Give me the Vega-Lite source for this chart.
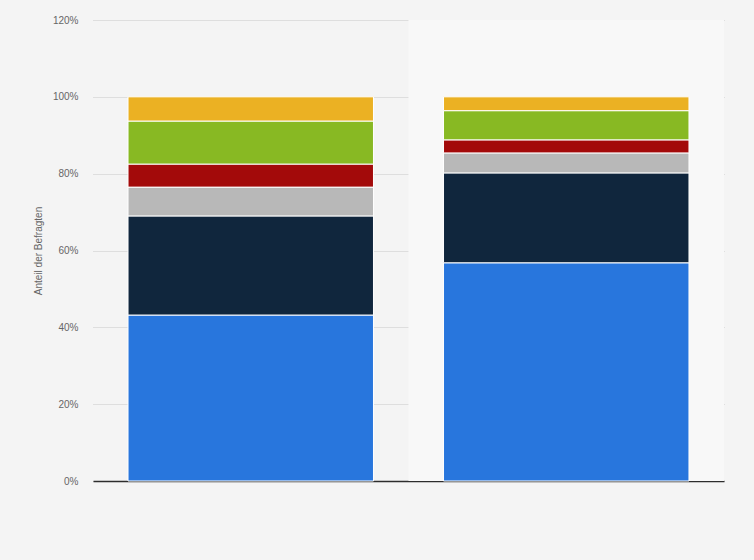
{
  "$schema": "https://vega.github.io/schema/vega-lite/v6.json",
  "autosize": "none",
  "width": 631,
  "height": 461,
  "padding": {"left": 93, "top": 20, "right": 30, "bottom": 79},
  "background": "#f4f4f4",
  "datasets": {
    "bars": [
      {"gruppe": "Gruppe 1", "antwort": "Antwort 1", "ordnung": 1, "anteil": 43.2},
      {"gruppe": "Gruppe 1", "antwort": "Antwort 2", "ordnung": 2, "anteil": 25.8},
      {"gruppe": "Gruppe 1", "antwort": "Antwort 3", "ordnung": 3, "anteil": 7.5},
      {"gruppe": "Gruppe 1", "antwort": "Antwort 4", "ordnung": 4, "anteil": 6.0},
      {"gruppe": "Gruppe 1", "antwort": "Antwort 5", "ordnung": 5, "anteil": 11.2},
      {"gruppe": "Gruppe 1", "antwort": "Antwort 6", "ordnung": 6, "anteil": 6.3},
      {"gruppe": "Gruppe 2", "antwort": "Antwort 1", "ordnung": 1, "anteil": 56.8},
      {"gruppe": "Gruppe 2", "antwort": "Antwort 2", "ordnung": 2, "anteil": 23.4},
      {"gruppe": "Gruppe 2", "antwort": "Antwort 3", "ordnung": 3, "anteil": 5.2},
      {"gruppe": "Gruppe 2", "antwort": "Antwort 4", "ordnung": 4, "anteil": 3.4},
      {"gruppe": "Gruppe 2", "antwort": "Antwort 5", "ordnung": 5, "anteil": 7.6},
      {"gruppe": "Gruppe 2", "antwort": "Antwort 6", "ordnung": 6, "anteil": 3.6}
    ],
    "band": [{"gruppe": "Gruppe 2"}]
  },
  "encoding": {
    "x": {
      "field": "gruppe",
      "type": "nominal",
      "scale": {"domain": ["Gruppe 1", "Gruppe 2"], "paddingInner": 0.222, "paddingOuter": 0.111},
      "axis": {"labels": false, "ticks": false, "title": null, "domainColor": "#2d2d2d", "domainWidth": 1.5, "grid": false}
    }
  },
  "layer": [
    {
      "data": {"name": "band"},
      "mark": {"type": "bar", "color": "#f8f8f8", "width": {"band": 1.2857}},
      "encoding": {
        "y": {"datum": 120, "type": "quantitative", "scale": {"domain": [0, 120]}},
        "y2": {"datum": 0}
      }
    },
    {
      "data": {"name": "bars"},
      "mark": {"type": "bar", "stroke": "#ffffff", "strokeWidth": 1},
      "encoding": {
        "y": {
          "field": "anteil",
          "type": "quantitative",
          "aggregate": "sum",
          "stack": "zero",
          "scale": {"domain": [0, 120]},
          "axis": {
            "values": [0, 20, 40, 60, 80, 100, 120],
            "labelExpr": "datum.value + '%'",
            "title": "Anteil der Befragten",
            "titleFontWeight": "normal",
            "titleFontSize": 10,
            "titleColor": "#666666",
            "titlePadding": 9,
            "labelFontSize": 10,
            "labelColor": "#666666",
            "labelPadding": 15,
            "ticks": false,
            "domain": false,
            "grid": true,
            "gridColor": "#c8c8c8",
            "gridDash": [1, 1]
          }
        },
        "color": {
          "field": "antwort",
          "type": "nominal",
          "scale": {
            "domain": ["Antwort 1", "Antwort 2", "Antwort 3", "Antwort 4", "Antwort 5", "Antwort 6"],
            "range": ["#2876dd", "#10263d", "#b8b8b8", "#a30a0a", "#88b923", "#ebb123"]
          },
          "legend": null
        },
        "order": {"field": "ordnung", "type": "quantitative"}
      }
    }
  ],
  "config": {
    "font": "Liberation Sans",
    "view": {"stroke": null},
    "axis": {"labelFont": "Liberation Sans", "titleFont": "Liberation Sans"}
  }
}
